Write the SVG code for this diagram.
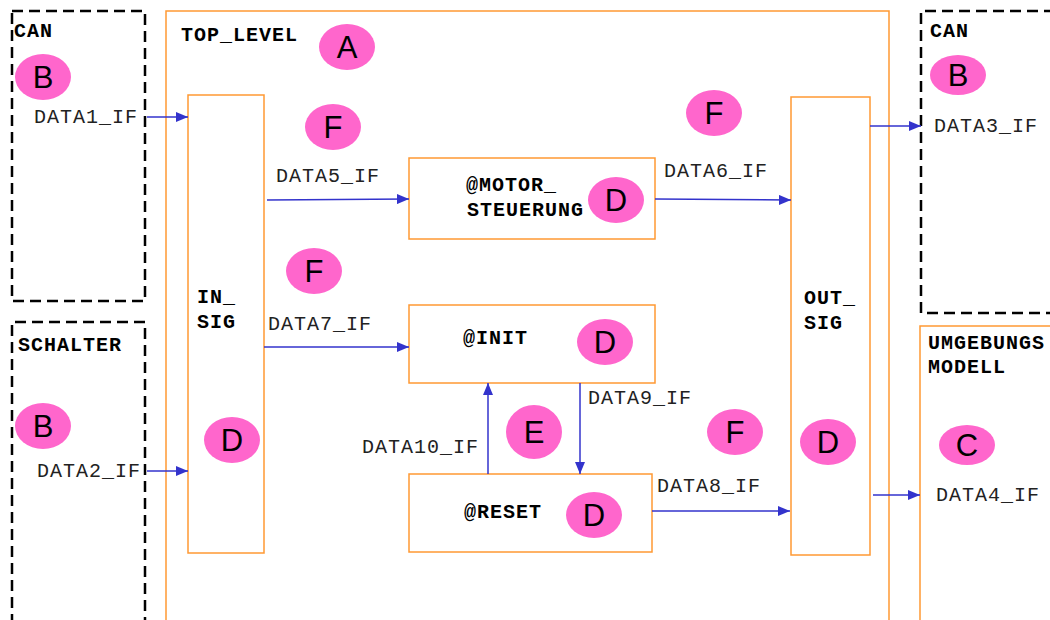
<svg xmlns="http://www.w3.org/2000/svg" width="1050" height="620" viewBox="0 0 1050 620">
  <defs>
    <marker id="arr" viewBox="0 0 12 10" refX="12" refY="5" markerWidth="12" markerHeight="10" markerUnits="userSpaceOnUse" orient="auto">
      <path d="M0,0 L12,5 L0,10 Z" fill="#3333cc"/>
    </marker>
    <style>
      .ext { fill: none; stroke: #000; stroke-width: 2.5; stroke-dasharray: 11 6; }
      .blk { fill: #fff; stroke: #ff9933; stroke-width: 1.5; }
      .frame { fill: none; stroke: #ff9933; stroke-width: 1.5; }
      .tag { fill: #ff66cc; }
      .tagt { font-family: "Liberation Sans", Arial, sans-serif; font-size: 31px; fill: #000; text-anchor: middle; }
      .name { font-family: "Liberation Mono", "Courier New", monospace; font-size: 20px; font-weight: bold; fill: #000; letter-spacing: 1px; }
      .sig { font-family: "Liberation Mono", "Courier New", monospace; font-size: 20px; fill: #222; letter-spacing: 1px; }
      .con { stroke: #3333cc; stroke-width: 1.5; fill: none; marker-end: url(#arr); }
    </style>
  </defs>
  <rect width="1050" height="620" fill="#fff"/>

  <!-- external components -->
  <g id="can_in">
    <rect class="ext" x="12" y="11" width="133" height="290"/>
    <text class="name" x="14" y="37">CAN</text>
    <ellipse class="tag" cx="43" cy="77" rx="28" ry="23"/>
    <text class="tagt" x="43" y="88">B</text>
  </g>
  <g id="schalter">
    <path class="ext" d="M12,625 V322 H145 V625"/>
    <text class="name" x="18" y="351">SCHALTER</text>
    <ellipse class="tag" cx="43" cy="426" rx="28" ry="23"/>
    <text class="tagt" x="43" y="437">B</text>
  </g>
  <g id="can_out">
    <path class="ext" d="M1055,11 H921 V313 H1055"/>
    <text class="name" x="930" y="37">CAN</text>
    <ellipse class="tag" cx="958" cy="75" rx="28" ry="20"/>
    <text class="tagt" x="958" y="86">B</text>
  </g>
  <g id="umgebungsmodell">
    <path class="frame" d="M1055,326 H920 V625"/>
    <text class="name" x="928" y="349">UMGEBUNGS</text>
    <text class="name" x="928" y="373">MODELL</text>
    <ellipse class="tag" cx="967" cy="445" rx="28" ry="20"/>
    <text class="tagt" x="967" y="456">C</text>
  </g>

  <!-- top level frame -->
  <g id="top_level">
    <path class="frame" d="M166,625 V11 H889 V625"/>
    <text class="name" x="181" y="41">TOP_LEVEL</text>
    <ellipse class="tag" cx="347" cy="47" rx="28" ry="23"/>
    <text class="tagt" x="347" y="58">A</text>
  </g>

  <!-- blocks -->
  <g id="in_sig">
    <rect class="blk" x="188" y="95" width="76" height="458"/>
    <text class="name" x="197" y="303">IN_</text>
    <text class="name" x="197" y="328">SIG</text>
    <ellipse class="tag" cx="232" cy="440" rx="28" ry="23"/>
    <text class="tagt" x="232" y="451">D</text>
  </g>
  <g id="out_sig">
    <rect class="blk" x="791" y="97" width="79" height="458"/>
    <text class="name" x="804" y="304">OUT_</text>
    <text class="name" x="804" y="329">SIG</text>
    <ellipse class="tag" cx="828" cy="442" rx="28" ry="23"/>
    <text class="tagt" x="828" y="453">D</text>
  </g>
  <g id="motor_steuerung">
    <rect class="blk" x="409" y="158" width="246" height="81"/>
    <text class="name" x="466" y="191">@MOTOR_</text>
    <text class="name" x="467" y="216">STEUERUNG</text>
    <ellipse class="tag" cx="616" cy="200" rx="28" ry="23"/>
    <text class="tagt" x="616" y="211">D</text>
  </g>
  <g id="init">
    <rect class="blk" x="409" y="305" width="246" height="78"/>
    <text class="name" x="463" y="344">@INIT</text>
    <ellipse class="tag" cx="605" cy="342" rx="28" ry="23"/>
    <text class="tagt" x="605" y="353">D</text>
  </g>
  <g id="reset">
    <rect class="blk" x="409" y="474" width="243" height="78"/>
    <text class="name" x="464" y="518">@RESET</text>
    <ellipse class="tag" cx="594" cy="515" rx="28" ry="23"/>
    <text class="tagt" x="594" y="526">D</text>
  </g>

  <!-- interface markers -->
  <g id="iface_tags">
    <ellipse class="tag" cx="333" cy="127" rx="28" ry="23"/>
    <text class="tagt" x="333" y="138">F</text>
    <ellipse class="tag" cx="714" cy="113" rx="28" ry="23"/>
    <text class="tagt" x="714" y="124">F</text>
    <ellipse class="tag" cx="314" cy="271" rx="28" ry="23"/>
    <text class="tagt" x="314" y="282">F</text>
    <ellipse class="tag" cx="534" cy="432" rx="28" ry="27"/>
    <text class="tagt" x="534" y="443">E</text>
    <ellipse class="tag" cx="735" cy="432" rx="28" ry="23"/>
    <text class="tagt" x="735" y="443">F</text>
  </g>

  <!-- connectors -->
  <g id="connectors">
    <line class="con" x1="147" y1="117" x2="188" y2="117"/>
    <line class="con" x1="147" y1="471" x2="188" y2="471"/>
    <line class="con" x1="267" y1="200" x2="409" y2="199"/>
    <line class="con" x1="655" y1="199" x2="791" y2="200"/>
    <line class="con" x1="264" y1="347" x2="409" y2="347"/>
    <line class="con" x1="580" y1="383" x2="580" y2="474"/>
    <line class="con" x1="488" y1="474" x2="488" y2="383"/>
    <line class="con" x1="652" y1="511" x2="790" y2="511"/>
    <line class="con" x1="870" y1="126" x2="921" y2="126"/>
    <line class="con" x1="873" y1="495" x2="920" y2="495"/>
    <text class="sig" x="34" y="123">DATA1_IF</text>
    <text class="sig" x="37" y="477">DATA2_IF</text>
    <text class="sig" x="276" y="182">DATA5_IF</text>
    <text class="sig" x="664" y="177">DATA6_IF</text>
    <text class="sig" x="268" y="330">DATA7_IF</text>
    <text class="sig" x="588" y="404">DATA9_IF</text>
    <text class="sig" x="362" y="453">DATA10_IF</text>
    <text class="sig" x="657" y="492">DATA8_IF</text>
    <text class="sig" x="934" y="132">DATA3_IF</text>
    <text class="sig" x="936" y="501">DATA4_IF</text>
  </g>
</svg>
